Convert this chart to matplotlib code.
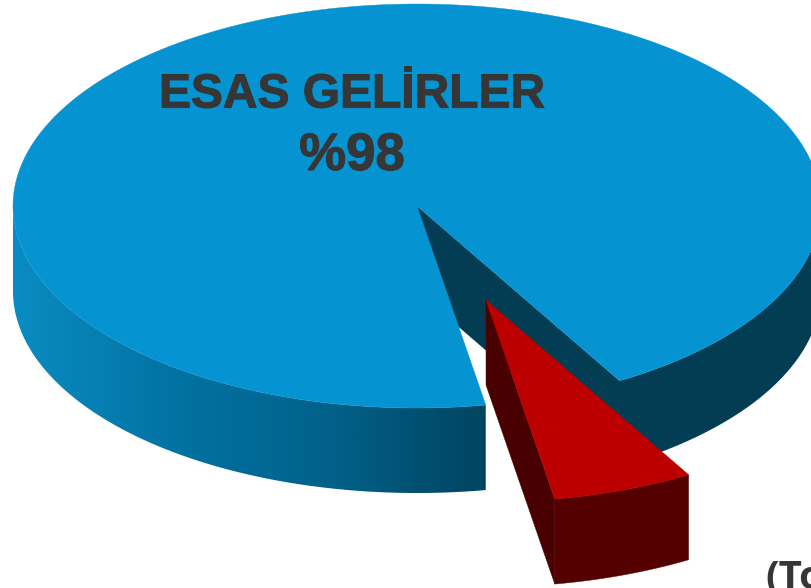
import numpy as np
import matplotlib
matplotlib.use("Agg")
import matplotlib.pyplot as plt
import matplotlib.patheffects as pe
from matplotlib.patches import Polygon
from matplotlib.colors import LinearSegmentedColormap

# Sweep of each slice as drawn (share of the full circle)
slice_names = ["ESAS GELİRLER", "DİĞER"]
slice_shares = [94.36, 5.64]
label_lines = ["ESAS GELİRLER", "%98"]
cut_text = "(To"

W, H = 812, 588
CX, CY, RX, RY, DEPTH = 417.0, 206.0, 404.0, 202.0, 85.0
START = -59.9  # degrees, counter-clockwise from +x, y up
EXPLODE = (69.0, 94.0)

fig = plt.figure(figsize=(W / 100, H / 100), dpi=100)
ax = fig.add_axes([0, 0, 1, 1])
ax.set_xlim(0, W)
ax.set_ylim(H, 0)
ax.axis("off")

TOP, RIM_DARK, RED_TOP, RED_SIDE, RED_WALL = "#0594d1", "#023d54", "#bc0000", "#480000", "#540000"
wall_cmap = LinearSegmentedColormap.from_list("wall", ["#0a8cc2", "#0273a3", "#01618a", "#014460"])


def rim(a0, a1, cx, cy, n=300):
    t = np.radians(np.linspace(a0, a1, n))
    return np.column_stack([cx + RX * np.cos(t), cy - RY * np.sin(t)])


def wall(pts):
    return np.vstack([pts, (pts + [0, DEPTH])[::-1]])


sweeps = 360 * np.array(slice_shares) / sum(slice_shares)
main_a0, main_a1 = START, START + sweeps[0]
small_a0, small_a1 = main_a1, main_a1 + sweeps[1]

# main slice: cut face and flat dark rim on the right, gradient rim on the left
centre = np.array([CX, CY])
ax.add_patch(Polygon(wall(np.vstack([[centre], rim(main_a0, 0, CX, CY)])), fc=RIM_DARK, ec="none", zorder=1))
left_wall = Polygon(wall(rim(180, main_a1, CX, CY)), fc="none", ec="none", zorder=2)
ax.add_patch(left_wall)
img = ax.imshow(np.linspace(0, 1, 256)[None, :], cmap=wall_cmap, aspect="auto",
                extent=[CX - RX, rim(main_a1, main_a1, CX, CY, 1)[0, 0], H, 0], zorder=2)
img.set_clip_path(left_wall)
ax.set_xlim(0, W)
ax.set_ylim(H, 0)
top = np.vstack([[centre], rim(main_a0, main_a1, CX, CY)])
ax.add_patch(Polygon(top, fc=TOP, ec=TOP, lw=0.3, zorder=3))

# exploded slice
ox, oy = CX + EXPLODE[0], CY + EXPLODE[1]
apex = np.array([ox, oy])
red_rim = rim(small_a0, small_a1, ox, oy, 60)
ax.add_patch(Polygon(wall(np.array([apex, red_rim[0]])), fc=RED_SIDE, ec=RED_SIDE, lw=0.3, zorder=4))
ax.add_patch(Polygon(wall(red_rim), fc=RED_WALL, ec=RED_WALL, lw=0.3, zorder=4))
ax.add_patch(Polygon(np.vstack([[apex], red_rim]), fc=RED_TOP, ec=RED_TOP, lw=0.3, zorder=5))

stroke = [pe.withStroke(linewidth=0.8, foreground="#363636")]
for y, s, size in zip((95, 156), label_lines, (34.5, 38)):
    ax.text(352, y, s, ha="center", va="center", family="Liberation Sans", weight="bold",
            fontsize=size, color="#363636", zorder=6, path_effects=stroke)
ax.text(765, 589, cut_text, ha="left", va="baseline", family="Open Sans", weight="bold",
        fontsize=29, color="#363636", zorder=6, clip_on=True)

fig.savefig("out.png", dpi=100)
